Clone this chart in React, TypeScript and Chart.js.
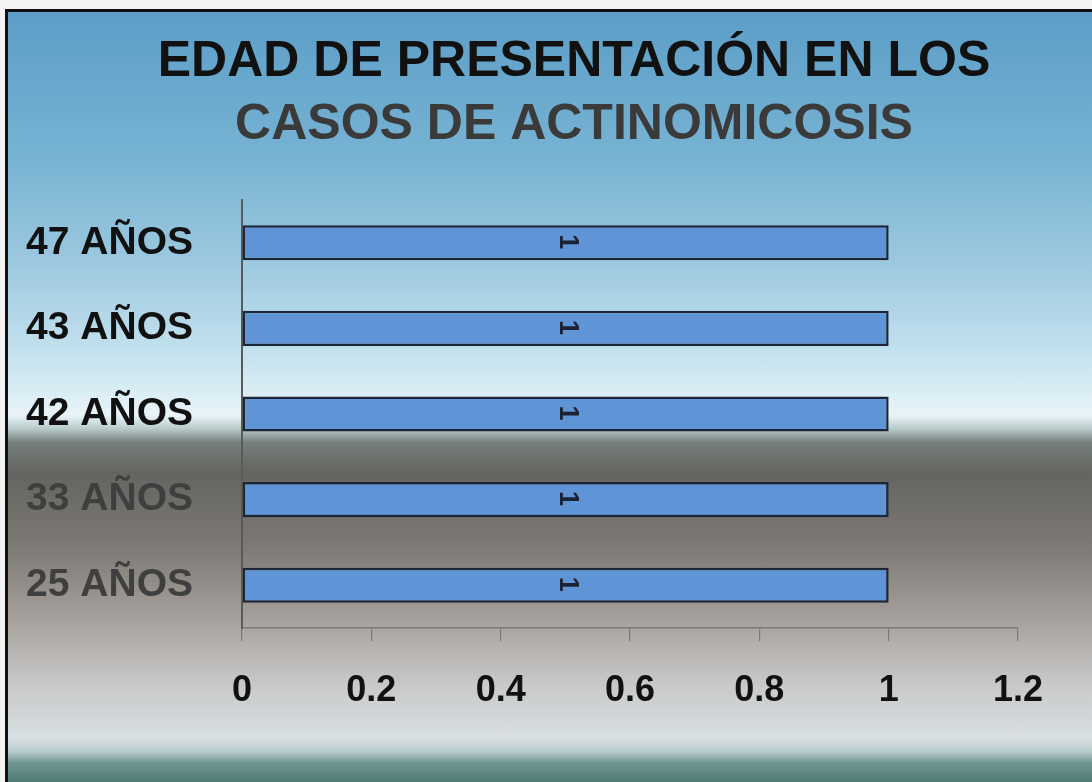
import React, { useEffect, useRef } from "react";
import { Chart, registerables } from "chart.js";

Chart.register(...registerables);

const categories = ["47 AÑOS", "43 AÑOS", "42 AÑOS", "33 AÑOS", "25 AÑOS"];
const values = [1, 1, 1, 1, 1];
const titleLines = ["EDAD DE PRESENTACIÓN EN LOS", "CASOS DE ACTINOMICOSIS"];
const titleColors = ["#111111", "#3a3a3a"];
const labelColors = ["#111111", "#111111", "#111111", "#3f3f3f", "#3f3f3f"];
const xMin = 0;
const xMax = 1.2;
const xStep = 0.2;

const FONT = "'Liberation Sans', Arial, sans-serif";

const titlePlugin = {
  id: "twoLineTitle",
  afterDraw(chart: any) {
    const ctx = chart.ctx;
    ctx.save();
    ctx.textAlign = "center";
    ctx.textBaseline = "middle";
    ctx.font = `bold 50px ${FONT}`;
    const ys = [62, 125];
    titleLines.forEach((t, i) => {
      ctx.fillStyle = titleColors[i];
      ctx.fillText(t, 574, ys[i]);
    });
    ctx.restore();
  },
};

const dataLabelPlugin = {
  id: "rotatedDataLabels",
  afterDatasetsDraw(chart: any) {
    const ctx = chart.ctx;
    const meta = chart.getDatasetMeta(0);
    ctx.save();
    ctx.font = `bold 27px ${FONT}`;
    ctx.fillStyle = "#1a2233";
    ctx.textAlign = "center";
    ctx.textBaseline = "middle";
    meta.data.forEach((el: any, i: number) => {
      const cx = (el.x + el.base) / 2;
      const cy = el.y;
      ctx.save();
      ctx.translate(cx + 2, cy - 1);
      ctx.rotate(Math.PI / 2);
      ctx.fillText(String(values[i]), 0, 0);
      ctx.restore();
    });
    ctx.restore();
  },
};

export default function App() {
  const canvasRef = useRef<HTMLCanvasElement | null>(null);

  useEffect(() => {
    if (!canvasRef.current) return;
    const chart = new Chart(canvasRef.current, {
      type: "bar",
      data: {
        labels: categories,
        datasets: [
          {
            data: values,
            backgroundColor: "#5f95d6",
            borderColor: "#1c2636",
            borderWidth: 2.5,
            borderSkipped: false,
            barPercentage: 0.82,
            categoryPercentage: 0.5,
          },
        ],
      },
      options: {
        indexAxis: "y",
        animation: false,
        responsive: false,
        maintainAspectRatio: false,
        layout: { padding: { top: 200, left: 0, right: 74, bottom: 0 } },
        plugins: {
          legend: { display: false },
          title: { display: false },
          tooltip: { enabled: false },
        },
        scales: {
          x: {
            min: xMin,
            max: xMax,
            ticks: {
              stepSize: xStep,
              color: "#111111",
              font: { family: FONT, size: 36, weight: "bold" },
              padding: 28,
              callback: (v: any) => String(Math.round(Number(v) * 10) / 10),
            },
            grid: {
              drawOnChartArea: false,
              drawTicks: true,
              tickLength: 13,
              color: "#7a7a7a",
              lineWidth: 1.2,
            },
            border: { display: true, color: "#7a7a7a", width: 1.5 },
            afterFit: (scale: any) => {
              scale.height = 154;
            },
          },
          y: {
            ticks: {
              color: (ctx: any) => labelColors[ctx.index] || "#111",
              font: { family: FONT, size: 39, weight: "bold" },
              padding: 49,
            },
            grid: { display: false, drawTicks: false },
            border: { display: true, color: "#5a5a5a", width: 2 },
            afterFit: (scale: any) => {
              scale.width = 242;
            },
          },
        },
      },
      plugins: [titlePlugin, dataLabelPlugin],
    });
    return () => chart.destroy();
  }, []);

  const bg =
    "linear-gradient(to bottom, " +
    "rgb(92,158,200) 0px, rgb(118,178,210) 140px, rgb(152,198,222) 240px, " +
    "rgb(195,225,238) 340px, rgb(224,240,246) 390px, rgb(234,244,248) 403px, " +
    "rgb(186,206,206) 416px, rgb(116,126,121) 431px, rgb(100,100,96) 461px, " +
    "rgb(128,124,119) 541px, rgb(168,163,158) 611px, rgb(200,200,200) 671px, " +
    "rgb(216,223,226) 726px, rgb(186,206,206) 739px, rgb(112,150,146) 751px, " +
    "rgb(72,116,112) 773px)";

  return (
    <div
      style={{
        position: "fixed",
        left: 0,
        top: 0,
        width: 1092,
        height: 782,
        background: "#f4f4f4",
        overflow: "hidden",
      }}
    >
      <div
        style={{
          position: "absolute",
          left: 5,
          top: 9,
          width: 1087,
          height: 773,
          background: bg,
          borderTop: "3px solid #111",
          borderLeft: "3px solid #111",
          boxSizing: "border-box",
        }}
      />
      <canvas
        ref={canvasRef}
        width={1092}
        height={782}
        style={{ position: "absolute", left: 0, top: 0, width: 1092, height: 782 }}
      />
    </div>
  );
}
